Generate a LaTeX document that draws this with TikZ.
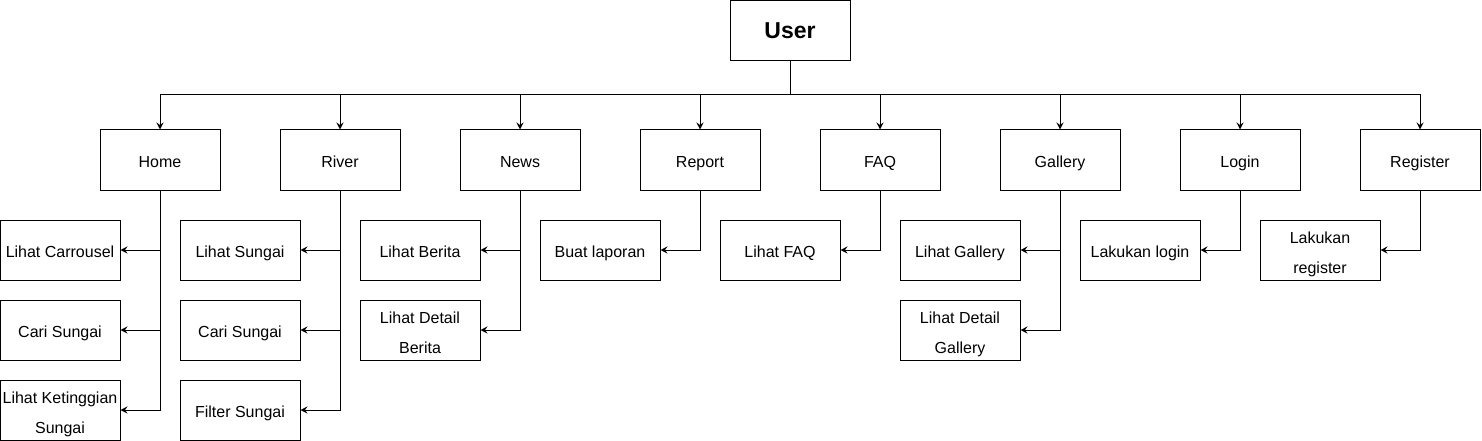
\documentclass[tikz,border=0pt]{standalone}
\usepackage{fontspec}
\setmainfont{Liberation Sans}
\usetikzlibrary{arrows.meta,positioning}

\begin{document}
\begin{tikzpicture}[
  x=1pt, y=-1pt,
  every node/.style={rectangle, draw, line width=1pt, minimum width=120pt, minimum height=60pt,
    font=\fontsize{16}{30}\selectfont, inner sep=1pt, align=center,
    execute at begin node={\rule[-4pt]{0pt}{23.4pt}},
    execute at end node={\rule[-4pt]{0pt}{4pt}}},
  twoline/.style={text height=51.5pt, text depth=4pt},
  link/.style={draw, line width=1pt, -{Stealth[length=7pt,width=7pt,inset=2.5pt]}}
]
\useasboundingbox (0,0) rectangle (1482,441);
\node[font=\fontsize{23}{28}\selectfont\bfseries] (user) at (790,30.5) {User};
\coordinate (bar) at (790,95);
\draw[line width=1pt] (user.south) -- (bar);

\node (home) at (160,160) {Home};
\node (river) at (340,160) {River};
\node (news) at (520,160) {News};
\node (report) at (700,160) {Report};
\node (faq) at (880,160) {FAQ};
\node (gallery) at (1060,160) {Gallery};
\node (login) at (1240,160) {Login};
\node (register) at (1420,160) {Register};

\node (carrousel) at (60,250) {Lihat Carrousel};
\node (carihome) at (60,330) {Cari Sungai};
\node[twoline] (ketinggian) at (60,410) {Lihat Ketinggian\\Sungai};
\node (sungai) at (240,250) {Lihat Sungai};
\node (caririver) at (240,330) {Cari Sungai};
\node (filter) at (240,410) {Filter Sungai};
\node (berita) at (420,250) {Lihat Berita};
\node[twoline] (detailberita) at (420,330) {Lihat Detail\\Berita};
\node (laporan) at (600,250) {Buat laporan};
\node (lihatfaq) at (780,250) {Lihat FAQ};
\node (lihatgallery) at (960,250) {Lihat Gallery};
\node[twoline] (detailgallery) at (960,330) {Lihat Detail\\Gallery};
\node (dologin) at (1140,250) {Lakukan login};
\node[twoline] (doregister) at (1320,250) {Lakukan\\register};

\draw[link] (bar) -| (home.north);
\draw[link] (bar) -| (river.north);
\draw[link] (bar) -| (news.north);
\draw[link] (bar) -| (report.north);
\draw[link] (bar) -| (faq.north);
\draw[link] (bar) -| (gallery.north);
\draw[link] (bar) -| (login.north);
\draw[link] (bar) -| (register.north);

\draw[link] (home.south) |- (carrousel.east);
\draw[link] (home.south) |- (carihome.east);
\draw[link] (home.south) |- (ketinggian.east);
\draw[link] (river.south) |- (sungai.east);
\draw[link] (river.south) |- (caririver.east);
\draw[link] (river.south) |- (filter.east);
\draw[link] (news.south) |- (berita.east);
\draw[link] (news.south) |- (detailberita.east);
\draw[link] (report.south) |- (laporan.east);
\draw[link] (faq.south) |- (lihatfaq.east);
\draw[link] (gallery.south) |- (lihatgallery.east);
\draw[link] (gallery.south) |- (detailgallery.east);
\draw[link] (login.south) |- (dologin.east);
\draw[link] (register.south) |- (doregister.east);
\end{tikzpicture}
\end{document}
